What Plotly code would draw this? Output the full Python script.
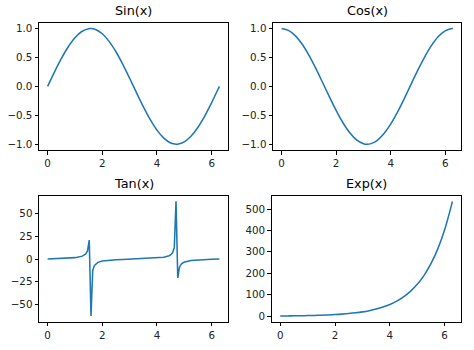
import plotly.graph_objects as go

# Sample points and function values for each panel
sin_x = [0.0, 0.25, 0.5, 0.75, 1.0, 1.25, 1.5, 1.5708, 1.75, 2.0, 2.25, 2.5, 2.75, 3.0,
         3.25, 3.5, 3.75, 4.0, 4.25, 4.5, 4.7124, 4.75, 5.0, 5.25, 5.5, 5.75, 6.0, 6.25, 6.2832]
sin_y = [0.0, 0.2474, 0.4794, 0.6816, 0.8415, 0.9490, 0.9975, 1.0, 0.9840, 0.9093, 0.7781,
         0.5985, 0.3817, 0.1411, -0.1082, -0.3508, -0.5716, -0.7568, -0.8950, -0.9775, -1.0,
         -0.9993, -0.9589, -0.8589, -0.7055, -0.5091, -0.2794, -0.0332, 0.0]

cos_x = [0.0, 0.25, 0.5, 0.75, 1.0, 1.25, 1.5, 1.75, 2.0, 2.25, 2.5, 2.75, 3.0, 3.1416,
         3.25, 3.5, 3.75, 4.0, 4.25, 4.5, 4.75, 5.0, 5.25, 5.5, 5.75, 6.0, 6.25, 6.2832]
cos_y = [1.0, 0.9689, 0.8776, 0.7317, 0.5403, 0.3153, 0.0707, -0.1782, -0.4161, -0.6282,
         -0.8011, -0.9243, -0.9900, -1.0, -0.9941, -0.9365, -0.8206, -0.6536, -0.4461,
         -0.2108, 0.0376, 0.2837, 0.5121, 0.7087, 0.8612, 0.9602, 0.9995, 1.0]

tan_x = [0.0, 0.25, 0.5, 0.75, 1.0, 1.2694, 1.3329, 1.3963, 1.4597, 1.5232, 1.5867, 1.6501,
         1.7136, 1.7771, 1.8405, 2.0, 2.25, 2.5, 2.75, 3.0, 3.25, 3.5, 3.75, 4.0, 4.25,
         4.4428, 4.5063, 4.5698, 4.6332, 4.6967, 4.7601, 4.8236, 4.8871, 4.9506, 5.0140,
         5.25, 5.5, 5.75, 6.0, 6.25, 6.2832]
tan_y = [0.0, 0.2553, 0.5463, 0.9316, 1.5574, 3.22, 4.12, 5.67, 8.96, 21.0, -62.9, -12.57,
         -6.95, -4.78, -3.62, -2.185, -1.2386, -0.7470, -0.4129, -0.1425, 0.1088, 0.3746,
         0.6966, 1.1578, 2.0061, 3.62, 4.79, 6.97, 12.6, 63.7, -20.9, -8.96, -5.67, -4.12,
         -3.22, -1.675, -0.9956, -0.591, -0.2910, -0.0332, 0.0]

exp_x = [0.0, 0.25, 0.5, 0.75, 1.0, 1.25, 1.5, 1.75, 2.0, 2.25, 2.5, 2.75, 3.0, 3.25, 3.5,
         3.75, 4.0, 4.25, 4.5, 4.75, 5.0, 5.25, 5.5, 5.75, 6.0, 6.25, 6.2832]
exp_y = [1.0, 1.284, 1.6487, 2.117, 2.718, 3.490, 4.4817, 5.7546, 7.389, 9.4877, 12.182,
         15.643, 20.086, 25.790, 33.115, 42.521, 54.598, 70.105, 90.017, 115.58, 148.41,
         190.57, 244.69, 314.19, 403.43, 518.01, 535.49]

titles = ["Sin(x)", "Cos(x)", "Tan(x)", "Exp(x)"]
x_ticks = [0, 2, 4, 6]
sincos_ticks = [-1.0, -0.5, 0.0, 0.5, 1.0]
tan_ticks = [-50, -25, 0, 25, 50]
exp_ticks = [0, 100, 200, 300, 400, 500]

LINE = "#1f77b4"
FONT = "DejaVu Sans"

panels = [
    dict(x=sin_x, y=sin_y, shape="spline", dx=[0.0823, 0.481], dy=[0.5714, 0.935],
         yr=[-1.1, 1.1], yt=sincos_ticks, fmt=".1f"),
    dict(x=cos_x, y=cos_y, shape="spline", dx=[0.576, 0.9736], dy=[0.5714, 0.935],
         yr=[-1.1, 1.1], yt=sincos_ticks, fmt=".1f"),
    dict(x=tan_x, y=tan_y, shape="linear", dx=[0.0823, 0.481], dy=[0.0809, 0.4409],
         yr=[-69.2, 70.0], yt=tan_ticks, fmt="d"),
    dict(x=exp_x, y=exp_y, shape="spline", dx=[0.573, 0.9726], dy=[0.0809, 0.4409],
         yr=[-25.7, 562.2], yt=exp_ticks, fmt="d"),
]

fig = go.Figure()
layout = dict(
    width=474, height=350,
    margin=dict(l=0, r=0, t=0, b=0),
    paper_bgcolor="white", plot_bgcolor="white",
    showlegend=False,
    font=dict(family=FONT, size=10, color="#000000"),
    annotations=[],
)

axis_common = dict(
    showgrid=False, zeroline=False, showline=True, mirror=True,
    linecolor="#000000", linewidth=0.8,
    ticks="outside", ticklen=3.6, tickwidth=0.8, tickcolor="#000000",
    tickfont=dict(family=FONT, size=10.3, color="#222222"),
)

for i, p in enumerate(panels):
    n = "" if i == 0 else str(i + 1)
    fig.add_trace(go.Scatter(
        x=p["x"], y=p["y"], mode="lines",
        line=dict(color=LINE, width=1.55, shape=p["shape"], smoothing=0.8),
        xaxis="x" + n, yaxis="y" + n, hoverinfo="skip",
    ))
    layout["xaxis" + n] = dict(axis_common, domain=p["dx"], range=[-0.3142, 6.5973],
                               tickvals=x_ticks, anchor="y" + n)
    layout["yaxis" + n] = dict(axis_common, domain=p["dy"], range=p["yr"],
                               tickvals=p["yt"], tickformat=p["fmt"], anchor="x" + n)
    layout["annotations"].append(dict(
        text=titles[i], xref="paper", yref="paper",
        x=(p["dx"][0] + p["dx"][1]) / 2, y=p["dy"][1],
        xanchor="center", yanchor="bottom", yshift=3, showarrow=False,
        font=dict(family=FONT, size=12.8, color="#000000"),
    ))

fig.update_layout(**layout)
fig.write_html("out.html")
